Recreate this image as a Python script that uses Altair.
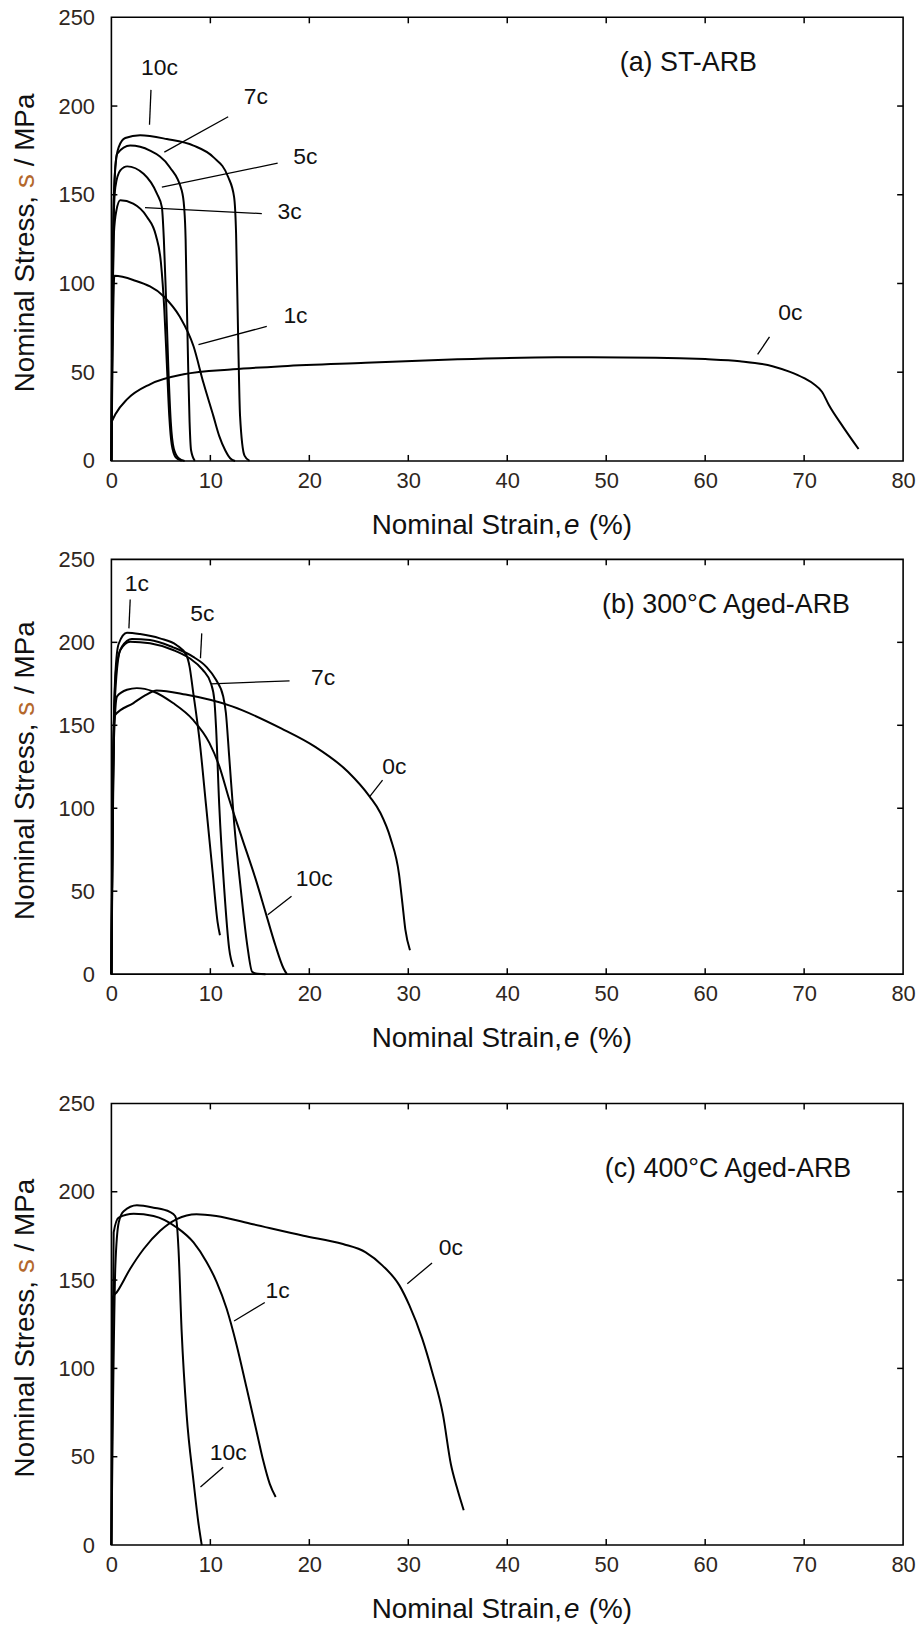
import altair as alt
import pandas as pd

FONT = "Liberation Sans, Arial, sans-serif"
TICK_COLOR = "#2e2620"
SIGMA_COLOR = "#b4682c"

X_TICKS = [0, 10, 20, 30, 40, 50, 60, 70, 80]
Y_TICKS = [0, 50, 100, 150, 200, 250]

# ---------------- Panel (a) ST-ARB ----------------
a_0c_x = [0, 0.4, 1.6, 3.9, 7.3, 12.3, 17.3, 25.7, 35, 45, 55, 60, 63.5, 66.8, 68.5, 70.0, 71.0, 71.8, 72.5, 73.9, 75.5]
a_0c_y = [21.7, 26.3, 34.8, 43.2, 48.8, 51.6, 53.4, 55.3, 57.3, 58.4, 58.2, 57.4, 56.2, 53.4, 50.3, 46.6, 43.2, 39.0, 31.5, 19.5, 6.7]
a_1c_x = [0, 0.12, 0.3, 2.2, 5.3, 6.9, 8.3, 9.3, 10.3, 10.9, 11.5, 12.0, 12.5]
a_1c_y = [0, 60, 104.3, 102, 92.7, 81.4, 64.6, 44, 25.4, 14, 6, 1.5, 0]
a_3c_x = [0, 0.1, 0.25, 0.5, 0.9, 2.2, 3.6, 4.5, 5.0, 5.35, 5.6, 5.85, 6.1, 6.5, 7.1]
a_3c_y = [0, 70, 128, 141, 146.9, 145, 137.5, 127, 112, 85, 55, 25, 9, 2, 0]
a_5c_x = [0, 0.1, 0.25, 0.4, 0.9, 1.6, 3.25, 4.6, 5.1, 5.3, 5.5, 5.75, 6.0, 6.3, 6.8, 7.4]
a_5c_y = [0, 80, 140, 154.3, 163.7, 166, 161.8, 150.6, 143, 125, 95, 53, 22, 7, 1.5, 0]
a_7c_x = [0, 0.1, 0.23, 0.57, 1.9, 3.9, 5.9, 7.1, 7.35, 7.5, 7.6, 7.75, 7.9, 8.05, 8.43]
a_7c_y = [0, 90, 146.9, 173, 177.7, 174.9, 165.5, 152.5, 143, 125, 95, 55, 22, 6, 0]
a_10c_x = [0, 0.1, 0.4, 0.73, 1.4, 2.9, 5.6, 8.3, 10.3, 11.8, 12.4, 12.6, 12.8, 13.0, 13.45, 13.96]
a_10c_y = [0, 100, 165.5, 176.7, 182, 183.5, 181.4, 177.7, 171.2, 160, 148.7, 128, 72, 25.4, 3, 0]

a_label_text = ["10c", "7c", "5c", "3c", "1c", "0c"]
a_label_x = [4.85, 14.6, 19.6, 18.0, 18.6, 68.6]
a_label_y = [221.6, 204.8, 171.2, 140.0, 81.4, 83.3]
a_lead_x1 = [4.0, 11.8, 16.8, 15.2, 15.7, 66.5]
a_lead_y1 = [209.1, 194.0, 167.8, 139.4, 75.8, 69.9]
a_lead_x2 = [3.85, 5.35, 5.1, 3.4, 8.8, 65.3]
a_lead_y2 = [189.5, 174.0, 154.3, 142.8, 65.6, 60.0]

# ---------------- Panel (b) 300°C Aged-ARB ----------------
b_0c_x = [0, 0.1, 0.35, 2.23, 3.4, 4.57, 7.5, 12.2, 17.2, 20.6, 23.9, 26.1, 27.2, 28.2, 29.07, 29.4, 29.7, 30.17]
b_0c_y = [0, 100, 156.0, 163.4, 168, 171, 168.5, 161.4, 148, 137, 122, 107, 97, 82, 60, 43, 27, 14.4]
b_1c_x = [0, 0.1, 0.17, 0.4, 0.73, 1.57, 2.9, 4.9, 6.57, 7.57, 7.9, 8.23, 8.9, 9.57, 10.23, 10.73, 10.97]
b_1c_y = [0, 60, 121, 181, 199, 205.8, 205, 202.4, 198.4, 192.4, 185.4, 171.4, 141.4, 101.4, 61.4, 31.4, 23.4]
b_5c_x = [0, 0.1, 0.25, 0.5, 1.07, 2.07, 3.9, 6.23, 8.23, 9.57, 10.57, 11.3, 11.57, 11.9, 12.4, 13.07, 13.73, 14.23, 14.8, 15.57]
b_5c_y = [0, 80, 150, 185, 197.4, 202, 201.4, 197, 191.4, 185.4, 177.4, 167.4, 157.4, 131.4, 91.4, 51.4, 17.4, 1.4, 0.2, 0]
b_7c_x = [0, 0.1, 0.3, 0.9, 1.9, 3.9, 6.23, 7.9, 9.23, 10.07, 10.4, 10.57, 10.9, 11.4, 11.9, 12.33]
b_7c_y = [0, 80, 160, 195.4, 200.4, 199.4, 195.4, 190.4, 183.4, 175, 165.4, 149.4, 101.4, 51.4, 15.4, 4.4]
b_10c_x = [0, 0.1, 0.25, 0.57, 1.57, 2.57, 4.23, 6.23, 8.23, 9.9, 10.9, 11.9, 13.23, 14.57, 15.57, 16.57, 17.4, 17.73]
b_10c_y = [0, 70, 140, 167.4, 171.4, 172.4, 170.4, 163.4, 153.4, 139.4, 125.4, 105.4, 81.4, 57.4, 37.4, 17.4, 3.4, 0]

b_label_text = ["1c", "5c", "7c", "0c", "10c"]
b_label_x = [2.57, 9.2, 21.4, 28.6, 20.5]
b_label_y = [235.4, 217.0, 178.4, 124.8, 57.4]
b_lead_x1 = [1.9, 9.13, 18.0, 27.4, 18.2]
b_lead_y1 = [225.8, 205.4, 176.8, 117.0, 47.0]
b_lead_x2 = [1.77, 9.0, 10.07, 26.1, 15.8]
b_lead_y2 = [208.4, 190.4, 175.0, 107.0, 35.8]

# ---------------- Panel (c) 400°C Aged-ARB ----------------
c_0c_x = [0, 0.07, 0.57, 1.9, 3.26, 4.93, 6.6, 8.6, 10.6, 14.3, 19.4, 23.4, 25.7, 27.4, 29.1, 30.1, 31.4, 32.4, 33.5, 34.3, 34.9, 35.6]
c_0c_y = [0, 139.5, 143.3, 156.4, 167.6, 177.9, 184.5, 187.3, 186.3, 181.6, 175.1, 170.4, 165.7, 158.2, 147, 135.8, 117, 98.3, 74, 45.9, 32.8, 19.7]
c_1c_x = [0, 0.1, 0.23, 0.74, 2.25, 4.26, 6.6, 8.3, 9.63, 10.64, 11.64, 12.65, 13.66, 14.66, 15.34, 16.0, 16.6]
c_1c_y = [0, 90, 177, 185.4, 187.6, 186.3, 179.8, 171.3, 160.1, 148.9, 133.9, 113.3, 89, 64.6, 47.8, 34.6, 27.2]
c_10c_x = [0, 0.17, 0.4, 0.74, 1.24, 2.58, 4.26, 5.9, 6.44, 6.6, 6.78, 7.1, 7.6, 8.29, 8.8, 9.13]
c_10c_y = [0, 83, 158, 182.6, 189, 192.3, 191, 188.6, 186.3, 182.6, 167.6, 120.8, 74, 36.5, 12.2, 0]

c_label_text = ["0c", "1c", "10c"]
c_label_x = [34.3, 16.8, 11.8]
c_label_y = [168.2, 143.8, 51.9]
c_lead_x1 = [32.4, 15.5, 11.3]
c_lead_y1 = [159.7, 137.3, 44.0]
c_lead_x2 = [29.9, 12.4, 9.0]
c_lead_y2 = [147.9, 126.8, 32.8]

TAGS = ["(a) ST-ARB", "(b) 300°C Aged-ARB", "(c) 400°C Aged-ARB"]
TAG_X = [58.3, 62.1, 62.3]
TAG_Y = [224.0, 222.5, 212.8]

W = 796
HEIGHTS = [446, 417, 444]

xscale = alt.Scale(domain=[0, 80], nice=False, zero=False)
yscale = alt.Scale(domain=[0, 250], nice=False, zero=False)
xaxis = alt.Axis(values=X_TICKS, ticks=False, domain=False, grid=False, title=None,
                 labelFont=FONT, labelFontSize=22, labelColor=TICK_COLOR, labelPadding=10,
                 labelFlush=False, labelOverlap=False)
yaxis = alt.Axis(values=Y_TICKS, ticks=False, domain=False, grid=False, title=None,
                 labelFont=FONT, labelFontSize=22, labelColor=TICK_COLOR, labelPadding=17,
                 labelFlush=False, labelOverlap=False)


def curves_df(curves):
    rows = []
    for name, (xs, ys) in curves.items():
        for i, (x, y) in enumerate(zip(xs, ys)):
            rows.append({"series": name, "i": i, "strain": x, "stress": y})
    return pd.DataFrame(rows)


def panel(curves, ltext, lx, ly, x1, y1, x2, y2, tag, tx, ty, h):
    df = curves_df(curves)
    X = lambda f: alt.X(f, type="quantitative", scale=xscale, axis=xaxis)
    Y = lambda f: alt.Y(f, type="quantitative", scale=yscale, axis=yaxis)

    lines = alt.Chart(df).mark_line(color="black", strokeWidth=2, interpolate="monotone").encode(
        x=X("strain"), y=Y("stress"), detail="series:N", order="i:Q")

    ldf = pd.DataFrame({"x1": x1, "y1": y1, "x2": x2, "y2": y2})
    leaders = alt.Chart(ldf).mark_rule(color="black", strokeWidth=1.3).encode(
        x=X("x1"), y=Y("y1"), x2="x2:Q", y2="y2:Q")

    tdf = pd.DataFrame({"t": ltext, "x": lx, "y": ly})
    labels = alt.Chart(tdf).mark_text(font=FONT, fontSize=23, color="#111",
                                      align="center", baseline="middle").encode(
        x=X("x"), y=Y("y"), text="t:N")

    gdf = pd.DataFrame({"t": [tag], "x": [tx], "y": [ty]})
    tagmark = alt.Chart(gdf).mark_text(font=FONT, fontSize=27, color="#111",
                                       align="center", baseline="middle").encode(
        x=X("x"), y=Y("y"), text="t:N")

    xt = pd.DataFrame({"v": X_TICKS[1:-1]})
    yt = pd.DataFrame({"v": Y_TICKS[1:-1]})
    tick_style = dict(color="black", strokeWidth=1.5)
    xb = alt.Chart(xt).mark_rule(**tick_style).encode(x=X("v"), y=alt.value(h), y2=alt.value(h - 6))
    xtp = alt.Chart(xt).mark_rule(**tick_style).encode(x=X("v"), y=alt.value(0), y2=alt.value(6))
    yl = alt.Chart(yt).mark_rule(**tick_style).encode(y=Y("v"), x=alt.value(0), x2=alt.value(6))
    yr = alt.Chart(yt).mark_rule(**tick_style).encode(y=Y("v"), x=alt.value(W - 6), x2=alt.value(W))

    # axis titles built from pieces (plain / italic / coloured symbol)
    one = pd.DataFrame({"k": [0]})
    xt_y = h + 65
    xt1 = alt.Chart(one).mark_text(text="Nominal Strain,", font=FONT, fontSize=28, color="#111",
                                   align="right", baseline="middle").encode(
        x=alt.value(453), y=alt.value(xt_y))
    xt2 = alt.Chart(one).mark_text(text="e", font=FONT, fontSize=28, fontStyle="italic", color="#111",
                                   align="left", baseline="middle").encode(
        x=alt.value(455), y=alt.value(xt_y))
    xt3 = alt.Chart(one).mark_text(text="(%)", font=FONT, fontSize=28, color="#111",
                                   align="left", baseline="middle").encode(
        x=alt.value(480), y=alt.value(xt_y))

    y0 = h / 2 + 154
    yt1 = alt.Chart(one).mark_text(text="Nominal Stress,", font=FONT, fontSize=28, color="#111",
                                   angle=270, align="left", baseline="middle").encode(
        x=alt.value(-86), y=alt.value(y0))
    yt2 = alt.Chart(one).mark_text(text="s", font=FONT, fontSize=28, color=SIGMA_COLOR,
                                   angle=270, align="left", baseline="middle").encode(
        x=alt.value(-86), y=alt.value(y0 - 205.4))
    yt3 = alt.Chart(one).mark_text(text="/ MPa", font=FONT, fontSize=28, color="#111",
                                   angle=270, align="left", baseline="middle").encode(
        x=alt.value(-86), y=alt.value(y0 - 227.2))

    return alt.layer(lines, leaders, labels, tagmark, xb, xtp, yl, yr,
                     xt1, xt2, xt3, yt1, yt2, yt3).properties(width=W, height=h)


pa = panel({"0c": (a_0c_x, a_0c_y), "1c": (a_1c_x, a_1c_y), "3c": (a_3c_x, a_3c_y),
            "5c": (a_5c_x, a_5c_y), "7c": (a_7c_x, a_7c_y), "10c": (a_10c_x, a_10c_y)},
           a_label_text, a_label_x, a_label_y, a_lead_x1, a_lead_y1, a_lead_x2, a_lead_y2,
           TAGS[0], TAG_X[0], TAG_Y[0], HEIGHTS[0])
pb = panel({"0c": (b_0c_x, b_0c_y), "1c": (b_1c_x, b_1c_y), "5c": (b_5c_x, b_5c_y),
            "7c": (b_7c_x, b_7c_y), "10c": (b_10c_x, b_10c_y)},
           b_label_text, b_label_x, b_label_y, b_lead_x1, b_lead_y1, b_lead_x2, b_lead_y2,
           TAGS[1], TAG_X[1], TAG_Y[1], HEIGHTS[1])
pc = panel({"0c": (c_0c_x, c_0c_y), "1c": (c_1c_x, c_1c_y), "10c": (c_10c_x, c_10c_y)},
           c_label_text, c_label_x, c_label_y, c_lead_x1, c_lead_y1, c_lead_x2, c_lead_y2,
           TAGS[2], TAG_X[2], TAG_Y[2], HEIGHTS[2])

top = alt.vconcat(pa, pb, spacing=7)
chart = alt.vconcat(top, pc, spacing=38).properties(
    padding={"left": 11, "top": 1, "right": 5, "bottom": 2},
    background="white",
).configure_view(stroke="black", strokeWidth=1.6).configure_concat(spacing=7)

chart.save("out.html", embed_options={"renderer": "svg", "actions": False})
